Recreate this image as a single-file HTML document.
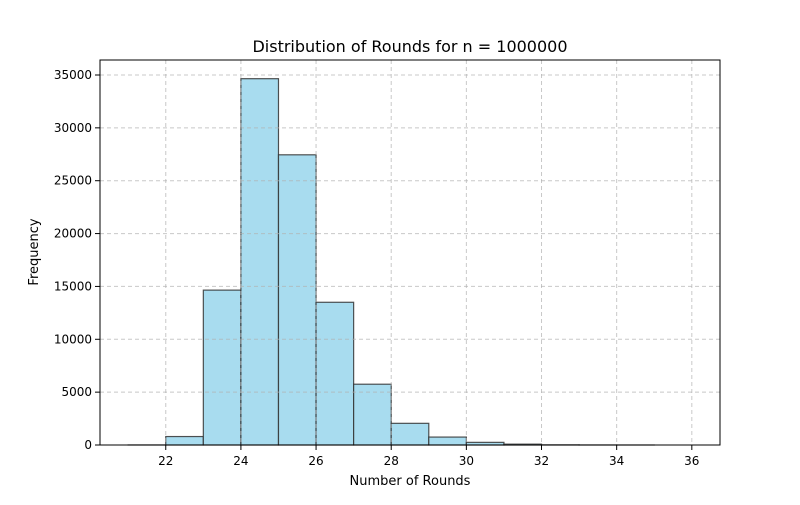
<!DOCTYPE html>
<html><head><meta charset="utf-8"><style>
body{margin:0;background:#fff;font-family:"Liberation Sans","DejaVu Sans",sans-serif;}
svg text{font-family:"DejaVu Sans","Liberation Sans",sans-serif;}
</style></head><body>
<svg id="chart" width="800" height="500">
<rect width="800" height="500" fill="#fff"/>
<g id="bars"></g><g id="grid"></g><g id="axes"></g>
<text x="410" y="52" text-anchor="middle" font-size="16">Distribution of Rounds for n = 1000000</text>
<text x="410" y="485" text-anchor="middle" font-size="13">Number of Rounds</text>
<text transform="translate(38,252) rotate(-90)" text-anchor="middle" font-size="13">Frequency</text>
</svg>
<script>
const binStarts=[21,22,23,24,25,26,27,28,29,30,31,32,33,34,35];
const counts=[5,800,14650,34650,27450,13500,5750,2050,750,250,80,15,4,1,0];
const xTicks=[22,24,26,28,30,32,34,36];
const yTicks=[0,5000,10000,15000,20000,25000,30000,35000];
const L=100,R=720,T=60,B=445;
const xmin=20.25,xmax=36.75,ymax=36418;
const sx=v=>L+(v-xmin)/(xmax-xmin)*(R-L);
const sy=v=>B-v/ymax*(B-T);
const NS="http://www.w3.org/2000/svg";
function mk(tag,attrs,parent){const e=document.createElementNS(NS,tag);for(const k in attrs)e.setAttribute(k,attrs[k]);document.getElementById(parent).appendChild(e);return e;}
binStarts.forEach((b,i)=>{
 const x0=sx(b),x1=sx(b+1),y=sy(counts[i]);
 const r=mk('rect',{x:x0,y:y,width:x1-x0,height:B-y,fill:'#a8dcef',stroke:'#333','stroke-width':'1.2','stroke-opacity':'0.85'},'bars');
 
 
});
xTicks.forEach(t=>{
 const g=mk('line',{x1:sx(t),x2:sx(t),y1:T,y2:B,stroke:'#b0b0b0','stroke-opacity':'0.7','stroke-dasharray':'4,3'},'grid');
 
 
 const tk=mk('line',{x1:sx(t),x2:sx(t),y1:B,y2:B+5,stroke:'#000'},'axes');
 
 
 const tx=mk('text',{x:sx(t),y:B+20,'text-anchor':'middle','font-size':'12'},'axes');
 tx.textContent=t;
 
 
});
yTicks.forEach(t=>{
 const g=mk('line',{x1:L,x2:R,y1:sy(t),y2:sy(t),stroke:'#b0b0b0','stroke-opacity':'0.7','stroke-dasharray':'4,3'},'grid');
 
 
 const tk=mk('line',{x1:L-5,x2:L,y1:sy(t),y2:sy(t),stroke:'#000'},'axes');
 
 
 const tx=mk('text',{x:L-8,y:sy(t)+4,'text-anchor':'end','font-size':'12'},'axes');
 tx.textContent=t;
 
 
});
const f=mk('rect',{x:L,y:T,width:R-L,height:B-T,fill:'none',stroke:'#000','stroke-width':'1'},'axes');


</script>
</body></html>
